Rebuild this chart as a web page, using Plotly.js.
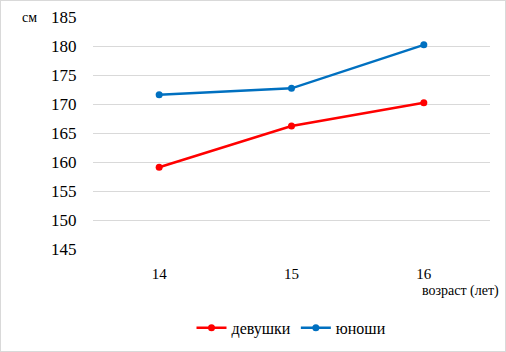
<!DOCTYPE html>
<html><head><meta charset="utf-8">
<script src="https://cdn.plot.ly/plotly-3.0.1.min.js"></script>
<style>
html,body{margin:0;padding:0;background:#fff;}
#wrap{width:506px;height:352px;box-sizing:border-box;border:1px solid #d9d9d9;overflow:hidden;}
#chart{width:504px;height:350px;}
</style></head>
<body><div id="wrap"><div id="chart"></div></div>
<script>
const ages = ['14', '15', '16'];
const girls = [159.1, 166.2, 170.2];
const boys = [171.6, 172.7, 180.2];
const yTicks = [145, 150, 155, 160, 165, 170, 175, 180, 185];

const font = 'Liberation Serif, DejaVu Serif, serif';
const traces = [
  {x: ages, y: girls, name: 'девушки', type: 'scatter', mode: 'lines+markers',
   line: {color: '#ff0000', width: 2.5}, marker: {color: '#ff0000', size: 7}},
  {x: ages, y: boys, name: 'юноши', type: 'scatter', mode: 'lines+markers',
   line: {color: '#0070c0', width: 2.5}, marker: {color: '#0070c0', size: 7}}
];
const layout = {
  width: 504, height: 350,
  margin: {l: 92, r: 15, t: 16, b: 102, autoexpand: false},
  paper_bgcolor: '#fff', plot_bgcolor: '#fff',
  font: {family: font, color: '#000'},
  showlegend: true,
  legend: {orientation: 'h', x: 0.5, xanchor: 'center', y: -0.34, yanchor: 'middle',
           font: {size: 16, family: font}, itemwidth: 30},
  xaxis: {type: 'category', range: [-0.5, 2.5], showgrid: false, zeroline: false,
          showline: true, linecolor: '#ffffff', linewidth: 2,
          ticks: 'outside', ticklen: 10, tickcolor: 'rgba(0,0,0,0)',
          tickfont: {size: 15, family: font}},
  yaxis: {range: [145, 185], tickvals: yTicks, showgrid: true, gridcolor: '#d9d9d9', gridwidth: 1,
          zeroline: false, showline: false,
          ticks: 'outside', ticklen: 12, tickcolor: 'rgba(0,0,0,0)',
          tickfont: {size: 17, family: font}},
  annotations: [
    {text: 'см', xref: 'paper', yref: 'paper', x: -0.16, y: 1.0, xanchor: 'center', yanchor: 'middle',
     showarrow: false, font: {size: 14, family: font}},
    {text: 'возраст (лет)', xref: 'paper', yref: 'paper', x: 1.027, y: -0.181, xanchor: 'right', yanchor: 'middle',
     showarrow: false, font: {size: 14, family: font}}
  ]
};
Plotly.newPlot('chart', traces, layout, {displayModeBar: false, staticPlot: true});
document.body.setAttribute('data-fontcheck', document.fonts ? 'y' : 'n');
</script></body></html>
